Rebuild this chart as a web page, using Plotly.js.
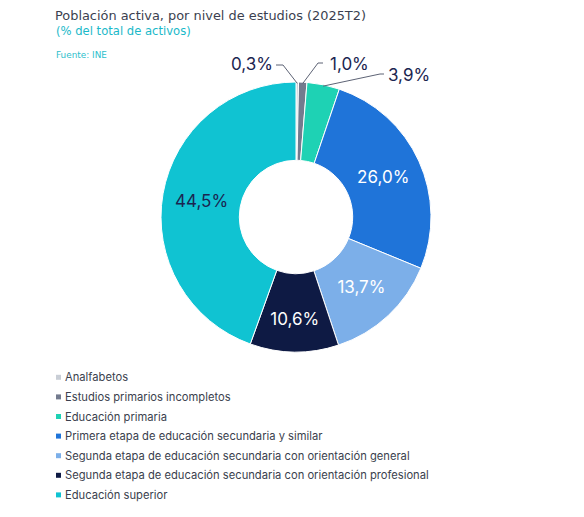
<!DOCTYPE html>
<html>
<head>
<meta charset="utf-8">
<script src="https://cdn.plot.ly/plotly-3.0.1.min.js"></script>
<style>html,body{margin:0;padding:0;background:#fff;}#chart{width:584px;height:517px;}</style>
</head>
<body>
<div id="chart"></div>
<script>
// ---- data ----
const categories = [
  "Analfabetos",
  "Estudios primarios incompletos",
  "Educación primaria",
  "Primera etapa de educación secundaria y similar",
  "Segunda etapa de educación secundaria con orientación general",
  "Segunda etapa de educación secundaria con orientación profesional",
  "Educación superior"
];
const values = [0.3, 1.0, 3.9, 26.0, 13.7, 10.6, 44.5];
const colors = ["#c9ced6", "#737b8e", "#1ed2b4", "#1f74d9", "#7cafe9", "#0e1a44", "#10c3d2"];

// ---- layout constants ----
const W = 584, H = 517;
const FONT = "Inter, sans-serif";
const TITLE_FONT = "'DejaVu Sans', sans-serif";
const dom = { x: [0.2757, 0.738], y: [0.3191, 0.8415] };
const insideIdx = [3, 4, 5, 6];
const insideColors = ["#1b2550", "#1b2550", "#1b2550", "#ffffff", "#ffffff", "#ffffff", "#1b2550"];
// outside label placement (pixels): elbow point, line end, text anchor
const outsideLabels = [
  { i: 0, ex: 283, ey: 65, lx: 276, tx: 275, ty: 64, anchor: "right" },
  { i: 1, ex: 318, ey: 63, lx: 323, tx: 328, ty: 64, anchor: "left" },
  { i: 2, ex: 380, ey: 74, lx: 384, tx: 386, ty: 75, anchor: "left" }
];
const legendTop = 377.3, legendStep = 19.6, legendSqX = 56, legendSq = 5, legendTextX = 63;

const px = x => x / W;
const py = y => 1 - y / H;

const fmt = v => v.toFixed(1).replace(".", ",") + "%";
const texts = values.map((v, k) => insideIdx.includes(k) ? fmt(v) : "");

const trace = {
  type: "pie",
  labels: categories,
  values: values,
  text: texts,
  textinfo: "text",
  sort: false,
  direction: "clockwise",
  rotation: 0,
  hole: 0.42,
  marker: { colors: colors, line: { color: "#ffffff", width: 1 } },
  textposition: "inside",
  insidetextorientation: "horizontal",
  insidetextfont: { color: insideColors, size: 17, family: FONT },
  domain: dom,
  hoverinfo: "label+value",
  showlegend: false
};

// geometry of pie from its domain
const cx = (dom.x[0] + dom.x[1]) / 2 * W;
const cy = (1 - (dom.y[0] + dom.y[1]) / 2) * H;
const R = Math.min((dom.x[1] - dom.x[0]) * W, (dom.y[1] - dom.y[0]) * H) / 2;
const total = values.reduce((a, b) => a + b, 0);
const cum = [];
values.reduce((acc, v, k) => { cum[k] = acc; return acc + v; }, 0);
function edgePoint(k, rf) {
  const ang = (cum[k] + values[k] / 2) / total * 2 * Math.PI;
  return [cx + R * rf * Math.sin(ang), cy - R * rf * Math.cos(ang)];
}

const shapes = [];
const annotations = [];

outsideLabels.forEach(o => {
  const p = edgePoint(o.i, 0.99);
  shapes.push({
    type: "path", xref: "paper", yref: "paper",
    path: `M${px(p[0])},${py(p[1])} L${px(o.ex)},${py(o.ey)} L${px(o.lx)},${py(o.ey)}`,
    line: { color: "#5d6375", width: 1 }
  });
  annotations.push({
    text: fmt(values[o.i]), xref: "paper", yref: "paper",
    x: px(o.tx), y: py(o.ty), xanchor: o.anchor, yanchor: "middle",
    showarrow: false, font: { size: 17, color: "#1b2550", family: FONT }
  });
});

// legend
categories.forEach((c, k) => {
  const yc = legendTop + k * legendStep;
  shapes.push({
    type: "rect", xref: "paper", yref: "paper",
    x0: px(legendSqX), x1: px(legendSqX + legendSq),
    y0: py(yc + legendSq / 2), y1: py(yc - legendSq / 2),
    fillcolor: colors[k], line: { width: 0 }
  });
  annotations.push({
    text: c, xref: "paper", yref: "paper",
    x: px(legendTextX), y: py(yc), xanchor: "left", yanchor: "middle",
    showarrow: false, font: { size: 11.2, color: "#3b3f4e", family: FONT }
  });
});

// subtitle and source
annotations.push({
  text: "(% del total de activos)", xref: "paper", yref: "paper",
  x: px(53.5), y: py(31), xanchor: "left", yanchor: "middle",
  showarrow: false, font: { size: 11.6, color: "#1ab9c9", family: TITLE_FONT }
});
annotations.push({
  text: "Fuente: INE", xref: "paper", yref: "paper",
  x: px(53.5), y: py(55), xanchor: "left", yanchor: "middle",
  showarrow: false, font: { size: 8.9, color: "#2ec0cc", family: TITLE_FONT }
});

const layout = {
  width: W,
  height: H,
  margin: { l: 0, r: 0, t: 0, b: 0 },
  paper_bgcolor: "#ffffff",
  font: { family: FONT, color: "#3b3f4e" },
  title: {
    text: "Población activa, por nivel de estudios (2025T2)",
    x: px(55), xanchor: "left", xref: "paper",
    y: py(15), yanchor: "middle", yref: "paper",
    font: { size: 12.9, color: "#3b3f50", family: TITLE_FONT }
  },
  showlegend: false,
  shapes: shapes,
  annotations: annotations
};

Plotly.newPlot("chart", [trace], layout, { displayModeBar: false });
</script>
</body>
</html>
